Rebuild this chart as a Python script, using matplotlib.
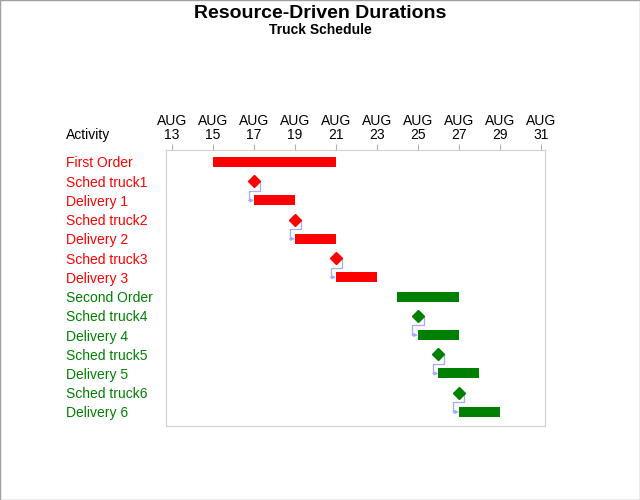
import matplotlib
matplotlib.use("Agg")
import matplotlib.pyplot as plt

plt.rcParams['font.family'] = ['Liberation Sans', 'DejaVu Sans']

# activities, start/finish day of August, milestone flag
activities = ['First Order', 'Sched truck1', 'Delivery 1', 'Sched truck2', 'Delivery 2',
              'Sched truck3', 'Delivery 3', 'Second Order', 'Sched truck4', 'Delivery 4',
              'Sched truck5', 'Delivery 5', 'Sched truck6', 'Delivery 6']
starts = [15, 17, 17, 19, 19, 21, 21, 24, 25, 25, 26, 26, 27, 27]
finishes = [21, 17, 19, 19, 21, 21, 23, 27, 25, 27, 26, 28, 27, 29]
order = [1, 1, 1, 1, 1, 1, 1, 2, 2, 2, 2, 2, 2, 2]
tick_days = [13, 15, 17, 19, 21, 23, 25, 27, 29, 31]

colors = {1: '#ff0000', 2: '#008000'}
link_color = '#a8a8ff'

fig = plt.figure(figsize=(6.4, 5.0), dpi=100)
ax = fig.add_axes([166 / 640, 1 - 426 / 500, 379 / 640, 276 / 500])

for i, (a, s, f, o) in enumerate(zip(activities, starts, finishes, order)):
    c = colors[o]
    if s == f:
        ax.plot(s, i, marker='D', color=c, markersize=6.5, zorder=3)
    else:
        ax.barh(i, f - s, left=s, height=0.52, color=c, zorder=3)

# precedence links: each milestone -> following delivery
dx = 0.27
for i, a in enumerate(activities):
    if a.startswith('Sched') and i + 1 < len(activities):
        x0 = starts[i]
        xs = [x0 + dx, x0 + dx, x0 - dx, x0 - dx]
        ys = [i, i + 0.5, i + 0.5, i + 1]
        ax.plot(xs, ys, color=link_color, lw=0.9, zorder=2)
        ax.annotate('', xy=(starts[i + 1], i + 1), xytext=(x0 - dx, i + 1),
                    arrowprops=dict(arrowstyle='-|>', color=link_color, lw=0.9,
                                    mutation_scale=5, shrinkA=0, shrinkB=0), zorder=2)

ax.set_xlim(12.7, 31.2)
ax.set_ylim(13.73, -0.62)
ax.xaxis.tick_top()
ax.set_xticks(tick_days)
ax.set_xticklabels(['AUG\n%d' % d for d in tick_days], fontsize=10, linespacing=1.0)
ax.tick_params(axis='x', length=4, color='#b0b0b0', pad=2)
ax.set_yticks([])
for sp in ax.spines.values():
    sp.set_color('#d0d0d0')

for i, (a, o) in enumerate(zip(activities, order)):
    ax.text(-100 / 379, i, a, transform=ax.get_yaxis_transform(), color=colors[o],
            fontsize=10, ha='left', va='center_baseline')
fig.text(66 / 640, 1 - 133 / 500, 'Activity', fontsize=10, ha='left', va='center_baseline')

fig.text(0.5, 1 - 13 / 500, 'Resource-Driven Durations', fontsize=14, fontweight='bold',
         ha='center', va='center')
fig.text(0.5, 1 - 30 / 500, 'Truck Schedule', fontsize=10, fontweight='bold',
         ha='center', va='center')

fig.patches.append(plt.Rectangle((0, 0), 1, 1, transform=fig.transFigure, fill=False,
                                 edgecolor='#a0a0a0', lw=1))

fig.savefig('out.png', dpi=100)
